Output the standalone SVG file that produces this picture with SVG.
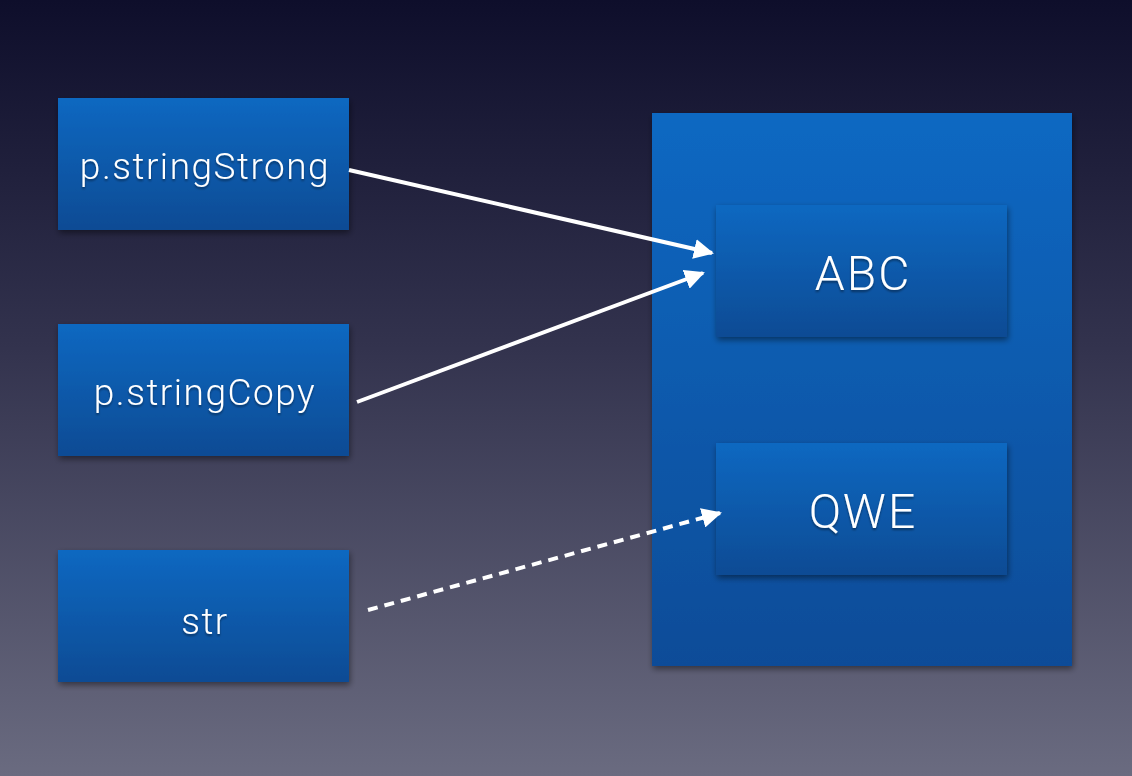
<svg xmlns="http://www.w3.org/2000/svg" width="1132" height="776" viewBox="0 0 1132 776">
<defs>
<linearGradient id="bg" x1="0" y1="0" x2="0" y2="1">
<stop offset="0" stop-color="#0e0e2b"/>
<stop offset="0.45" stop-color="#33334e"/>
<stop offset="1" stop-color="#6a6b80"/>
</linearGradient>
<linearGradient id="box" x1="0" y1="0" x2="0" y2="1">
<stop offset="0" stop-color="#1068c1"/>
<stop offset="1" stop-color="#0f4b94"/>
</linearGradient>
<linearGradient id="cont" x1="0" y1="0" x2="0" y2="1">
<stop offset="0" stop-color="#0f68c2"/>
<stop offset="1" stop-color="#0f4c98"/>
</linearGradient>
<filter id="sh" x="-10%" y="-10%" width="125%" height="130%">
<feGaussianBlur in="SourceAlpha" stdDeviation="3"/>
<feOffset dx="1" dy="3" result="b"/>
<feComponentTransfer><feFuncA type="linear" slope="0.45"/></feComponentTransfer>
<feMerge><feMergeNode/><feMergeNode in="SourceGraphic"/></feMerge>
</filter>
<filter id="tsh" x="-10%" y="-20%" width="120%" height="150%">
<feGaussianBlur in="SourceAlpha" stdDeviation="1"/>
<feOffset dx="0" dy="2"/>
<feComponentTransfer><feFuncA type="linear" slope="0.4"/></feComponentTransfer>
<feMerge><feMergeNode/><feMergeNode in="SourceGraphic"/></feMerge>
</filter>
<marker id="ah" viewBox="0 0 10 10" refX="9" refY="5" markerWidth="5" markerHeight="5" orient="auto" markerUnits="strokeWidth">
<path d="M0,0 L10,5 L0,10 z" fill="#ffffff"/>
</marker>
</defs>
<style>
.box{fill:url(#box);filter:url(#sh)}
.lbl{fill:#ffffff;font-family:Roboto,"Liberation Sans",sans-serif;font-weight:300;text-anchor:middle;filter:url(#tsh)}
.sm{font-size:37px;letter-spacing:1.5px}
.lg{font-size:48px;letter-spacing:2px}
.conn{stroke:#ffffff;stroke-width:4;fill:none;marker-end:url(#ah)}
.dash{stroke-dasharray:10 7}
</style>
<rect width="1132" height="776" fill="url(#bg)"/>
<g id="container">
<rect x="652" y="113" width="420" height="553" fill="url(#cont)" filter="url(#sh)"/>
</g>
<g id="node-strong">
<rect class="box" x="58" y="98" width="291" height="132"/>
<text class="lbl sm" x="205" y="179">p.stringStrong</text>
</g>
<g id="node-copy">
<rect class="box" x="58" y="324" width="291" height="132"/>
<text class="lbl sm" x="205" y="405">p.stringCopy</text>
</g>
<g id="node-str">
<rect class="box" x="58" y="550" width="291" height="132"/>
<text class="lbl sm" x="205" y="634">str</text>
</g>
<g id="node-abc">
<rect class="box" x="716" y="205" width="291" height="132"/>
<text class="lbl lg" x="863" y="290">ABC</text>
</g>
<g id="node-qwe">
<rect class="box" x="716" y="443" width="291" height="132"/>
<text class="lbl lg" x="863" y="528">QWE</text>
</g>
<g id="connectors">
<line class="conn" x1="349" y1="170" x2="712" y2="253"/>
<line class="conn" x1="357" y1="402" x2="703" y2="273"/>
<line class="conn dash" x1="368" y1="610" x2="720" y2="513"/>
</g>
</svg>
